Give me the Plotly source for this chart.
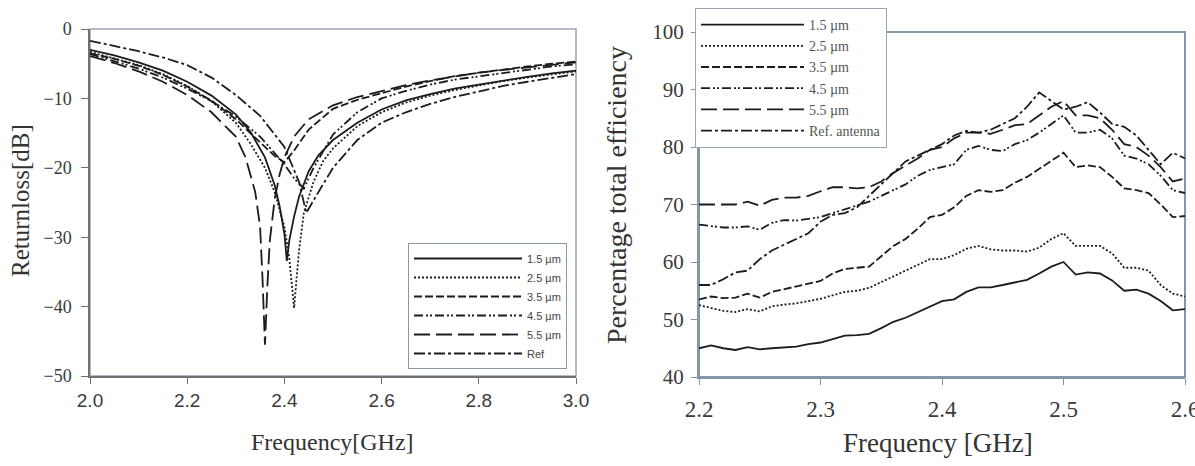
import plotly.graph_objects as go

W, H = 1195, 466

# ---------------- Left chart: return loss ----------------
rl_labels = ["1.5 µm", "2.5 µm", "3.5 µm", "4.5 µm", "5.5 µm", "Ref"]

rl_f_15 = [2.0, 2.05, 2.1, 2.15, 2.2, 2.25, 2.3, 2.33, 2.36, 2.38, 2.39, 2.40, 2.405, 2.41, 2.42, 2.43, 2.45, 2.47, 2.5, 2.55, 2.6, 2.65, 2.7, 2.75, 2.8, 2.85, 2.9, 2.95, 3.0]
rl_v_15 = [-3.0, -3.8, -4.8, -6.0, -7.6, -9.6, -12.3, -14.8, -18.5, -22.5, -25.5, -29.5, -33.4, -30.5, -27.0, -24.2, -20.5, -18.2, -16.0, -13.5, -11.6, -10.3, -9.4, -8.6, -8.0, -7.4, -6.9, -6.4, -6.0]

rl_f_25 = [2.0, 2.05, 2.1, 2.15, 2.2, 2.25, 2.3, 2.33, 2.36, 2.38, 2.40, 2.41, 2.415, 2.42, 2.425, 2.43, 2.44, 2.46, 2.48, 2.5, 2.55, 2.6, 2.65, 2.7, 2.75, 2.8, 2.85, 2.9, 2.95, 3.0]
rl_v_25 = [-3.3, -4.2, -5.2, -6.5, -8.2, -10.4, -13.5, -16.5, -20.0, -23.5, -28.5, -33.0, -37.0, -40.2, -36.0, -32.0, -26.5, -22.0, -19.0, -17.2, -14.0, -12.0, -10.6, -9.6, -8.8, -8.1, -7.5, -7.0, -6.5, -6.1]

rl_f_35 = [2.0, 2.05, 2.1, 2.15, 2.2, 2.25, 2.3, 2.33, 2.36, 2.38, 2.40, 2.42, 2.45, 2.5, 2.55, 2.6, 2.65, 2.7, 2.75, 2.8, 2.85, 2.9, 2.95, 3.0]
rl_v_35 = [-3.5, -4.3, -5.3, -6.6, -8.3, -10.3, -13.0, -15.0, -17.0, -18.3, -19.2, -17.5, -14.5, -11.5, -10.2, -9.2, -8.3, -7.5, -6.8, -6.3, -5.8, -5.4, -5.0, -4.7]

rl_f_45 = [2.0, 2.05, 2.1, 2.15, 2.2, 2.25, 2.3, 2.35, 2.4, 2.42, 2.44, 2.46, 2.5, 2.55, 2.6, 2.65, 2.7, 2.75, 2.8, 2.85, 2.9, 2.95, 3.0]
rl_v_45 = [-3.6, -4.6, -5.7, -7.0, -8.6, -10.4, -12.6, -15.5, -19.5, -21.5, -23.0, -20.0, -15.2, -12.0, -10.0, -8.9, -8.0, -7.3, -6.8, -6.3, -5.8, -5.4, -5.1]

rl_f_55 = [2.0, 2.05, 2.1, 2.15, 2.2, 2.25, 2.3, 2.32, 2.34, 2.35, 2.355, 2.36, 2.365, 2.37, 2.38, 2.39, 2.4, 2.42, 2.45, 2.5, 2.55, 2.6, 2.65, 2.7, 2.75, 2.8, 2.85, 2.9, 2.95, 3.0]
rl_v_55 = [-3.9, -4.9, -6.1, -7.6, -9.5, -12.0, -15.5, -18.5, -23.5, -28.5, -36.0, -45.5, -37.0, -30.5, -24.5, -21.0, -18.5, -15.5, -13.0, -11.0, -9.8, -8.9, -8.1, -7.4, -6.8, -6.3, -5.9, -5.5, -5.1, -4.8]

rl_f_ref = [2.0, 2.05, 2.1, 2.15, 2.2, 2.25, 2.3, 2.35, 2.4, 2.43, 2.445, 2.47, 2.5, 2.55, 2.6, 2.65, 2.7, 2.75, 2.8, 2.85, 2.9, 2.95, 3.0]
rl_v_ref = [-1.7, -2.4, -3.2, -4.1, -5.2, -7.0, -9.5, -12.5, -17.0, -22.0, -26.5, -23.5, -20.0, -16.0, -13.5, -12.0, -10.8, -9.8, -9.0, -8.2, -7.6, -7.0, -6.5]

rl_f = [rl_f_15, rl_f_25, rl_f_35, rl_f_45, rl_f_55, rl_f_ref]
rl_v = [rl_v_15, rl_v_25, rl_v_35, rl_v_45, rl_v_55, rl_v_ref]

# ---------------- Right chart: efficiency ----------------
eff_labels = ["1.5 µm", "2.5 µm", "3.5 µm", "4.5 µm", "5.5 µm", "Ref. antenna"]
eff_f = [2.20, 2.21, 2.22, 2.23, 2.24, 2.25, 2.26, 2.27, 2.28, 2.29, 2.30,
         2.31, 2.32, 2.33, 2.34, 2.35, 2.36, 2.37, 2.38, 2.39, 2.40,
         2.41, 2.42, 2.43, 2.44, 2.45, 2.46, 2.47, 2.48, 2.49, 2.50,
         2.51, 2.52, 2.53, 2.54, 2.55, 2.56, 2.57, 2.58, 2.59, 2.60]
eff_15 = [45.0, 45.5, 45.0, 44.7, 45.2, 44.8, 45.0, 45.2, 45.3, 45.7, 46.0,
          46.6, 47.2, 47.3, 47.5, 48.5, 49.6, 50.3, 51.3, 52.3, 53.2,
          53.5, 54.8, 55.6, 55.6, 56.0, 56.5, 56.9, 58.0, 59.2, 60.0,
          57.8, 58.2, 58.0, 56.8, 55.0, 55.2, 54.5, 53.2, 51.6, 51.8]
eff_25 = [52.5, 52.0, 51.5, 51.3, 51.8, 51.4, 52.3, 52.6, 52.8, 53.2, 53.6,
          54.2, 54.8, 55.0, 55.5, 56.5, 57.5, 58.5, 59.5, 60.5, 60.5,
          61.2, 62.3, 62.8, 62.2, 62.0, 62.0, 61.8, 62.5, 64.0, 65.0,
          62.8, 62.8, 62.8, 61.5, 59.0, 59.0, 58.5, 56.0, 54.5, 54.0]
eff_35 = [53.5, 54.0, 53.7, 53.8, 54.5, 53.8, 54.8, 55.3, 55.8, 56.2, 56.7,
          58.0, 58.8, 59.0, 59.2, 61.0, 62.8, 64.0, 65.8, 67.8, 68.2,
          69.5, 71.5, 72.5, 72.2, 72.5, 73.8, 74.8, 76.2, 77.5, 79.0,
          76.5, 76.8, 76.5, 74.8, 72.8, 72.5, 72.0, 70.0, 67.8, 68.0]
eff_45 = [66.5, 66.2, 66.0, 66.0, 66.2, 65.6, 66.8, 67.3, 67.2, 67.5, 67.8,
          68.5, 69.2, 69.8, 70.5, 71.5, 72.5, 73.5, 75.0, 76.0, 76.5,
          77.0, 79.5, 80.2, 79.5, 79.3, 80.5, 81.2, 82.5, 84.0, 85.5,
          82.5, 82.5, 83.0, 81.5, 78.5, 78.0, 77.0, 75.0, 72.5, 72.0]
eff_55 = [70.0, 70.0, 70.0, 70.0, 70.5, 69.8, 70.8, 71.2, 71.2, 71.5, 72.3,
          73.0, 73.0, 72.8, 73.0, 74.0, 75.5, 76.8, 78.0, 79.5, 80.0,
          81.5, 82.5, 82.5, 82.3, 83.0, 83.8, 84.0, 85.5, 87.0, 88.0,
          85.5, 85.5, 85.0, 83.0, 80.5, 80.0, 78.5, 76.5, 74.0, 74.5]
eff_ref = [56.0, 56.0, 57.0, 58.2, 58.5, 60.5, 62.0, 63.0, 64.0, 65.0, 67.0,
           68.2, 68.5, 69.5, 71.5, 73.5, 75.5, 77.5, 78.5, 79.5, 80.5,
           82.0, 82.8, 82.5, 83.0, 84.0, 85.0, 87.0, 89.5, 88.0, 86.5,
           87.0, 87.8, 86.0, 84.0, 83.5, 82.0, 79.5, 77.0, 79.0, 78.0]
eff_v = [eff_15, eff_25, eff_35, eff_45, eff_55, eff_ref]

# ---------------- Styles ----------------
dashes = ["solid", "2px,2px", "8px,3px", "9px,3px,2px,2px,2px,3px", "16px,6px", "11px,3px,3px,3px"]
LC = "#1c1c1c"

fig = go.Figure()
for lab, f, v, d in zip(rl_labels, rl_f, rl_v, dashes):
    fig.add_trace(go.Scatter(x=f, y=v, mode="lines", name=lab, xaxis="x", yaxis="y",
                             line=dict(color=LC, width=1.8, dash=d), legend="legend"))
for lab, v, d in zip(eff_labels, eff_v, dashes):
    fig.add_trace(go.Scatter(x=eff_f, y=v, mode="lines", name=lab, xaxis="x2", yaxis="y2",
                             line=dict(color=LC, width=1.8, dash=d), legend="legend2"))

def px(x):
    return x / W

def py(y):
    return 1 - y / H

L_x0, L_x1, L_y0, L_y1 = 90, 576, 29, 376
R_x0, R_x1, R_y0, R_y1 = 699, 1185, 32, 377

serif = "Liberation Serif, Times New Roman, serif"
sans = "Liberation Sans, Arial, sans-serif"
frameL = "#9aa6b2"
frameR = "#8497a8"

fig.update_layout(
    template="none",
    width=W, height=H, margin=dict(l=0, r=0, t=0, b=0, autoexpand=False),
    paper_bgcolor="white", plot_bgcolor="white",
    xaxis=dict(domain=[px(L_x0), px(L_x1)], range=[2.0, 3.0], tickvals=[2.0, 2.2, 2.4, 2.6, 2.8, 3.0],
               ticktext=["2.0", "2.2", "2.4", "2.6", "2.8", "3.0"], automargin=False,
               ticklabeloverflow="allow",
               showgrid=False, zeroline=False, showline=True, linecolor="#707070", linewidth=1.5,
               mirror=False, ticks="outside", ticklen=6, tickcolor="#707070",
               tickfont=dict(family=sans, size=19, color="#3a3a3a"), anchor="y"),
    yaxis=dict(domain=[py(L_y1), py(L_y0)], range=[-50, 0], tickvals=[-50, -40, -30, -20, -10, 0],
               automargin=False, ticklabelstandoff=6,
               showgrid=False, zeroline=False, showline=True, linecolor="#707070", linewidth=1.5,
               ticks="outside", ticklen=7, tickcolor="#707070",
               tickfont=dict(family=serif, size=18, color="#3a3a3a"), anchor="x"),
    xaxis2=dict(domain=[px(R_x0), px(R_x1)], range=[2.2, 2.6], tickvals=[2.2, 2.3, 2.4, 2.5, 2.6],
                ticktext=["2.2", "2.3", "2.4", "2.5", "2.6"], automargin=False,
                ticklabeloverflow="allow", ticklabelstandoff=4,
                showgrid=False, zeroline=False, showline=True, linecolor=frameR, linewidth=2,
                ticks="outside", ticklen=6, tickcolor=frameR,
                tickfont=dict(family=serif, size=23, color="#3a3a3a"), anchor="y2"),
    yaxis2=dict(domain=[py(R_y1), py(R_y0)], range=[40, 100], tickvals=[40, 50, 60, 70, 80, 90, 100],
                automargin=False, ticklabelstandoff=3,
                showgrid=False, zeroline=False, showline=True, linecolor=frameR, linewidth=2,
                ticks="outside", ticklen=6, tickcolor=frameR,
                tickfont=dict(family=serif, size=21, color="#3a3a3a"), anchor="x2"),
    legend=dict(x=px(408), y=py(243), xanchor="left", yanchor="top",
                bgcolor="white", bordercolor="#8a96a0", borderwidth=1,
                font=dict(family=sans, size=11, color="#444"), itemwidth=108,
                tracegroupgap=0),
    legend2=dict(x=px(695), y=py(8), xanchor="left", yanchor="top",
                 bgcolor="white", bordercolor="#9aa6b2", borderwidth=1,
                 font=dict(family=serif, size=14, color="#555"), itemwidth=103,
                 tracegroupgap=0),
    shapes=[
        dict(type="rect", xref="paper", yref="paper", x0=px(L_x0), x1=px(L_x1), y0=py(L_y1), y1=py(L_y0),
             line=dict(color=frameL, width=1.5), layer="below"),
        dict(type="rect", xref="paper", yref="paper", x0=px(R_x0), x1=px(R_x1), y0=py(R_y1), y1=py(R_y0),
             line=dict(color=frameR, width=2), layer="below"),
    ],
    annotations=[
        dict(text="Returnloss[dB]", xref="paper", yref="paper", x=px(21), y=py(201),
             xanchor="center", yanchor="middle",
             showarrow=False, textangle=-90, font=dict(family=serif, size=25, color="#333")),
        dict(text="Frequency[GHz]", xref="paper", yref="paper", x=px(332), y=py(442),
             xanchor="center", yanchor="middle",
             showarrow=False, font=dict(family=serif, size=24, color="#333")),
        dict(text="Percentage total efficiency", xref="paper", yref="paper", x=px(616), y=py(195),
             xanchor="center", yanchor="middle",
             showarrow=False, textangle=-90, font=dict(family=serif, size=28, color="#333")),
        dict(text="Frequency [GHz]", xref="paper", yref="paper", x=px(938), y=py(443),
             xanchor="center", yanchor="middle",
             showarrow=False, font=dict(family=serif, size=27, color="#333")),
    ],
    showlegend=True,
)

fig.write_html("out.html")
